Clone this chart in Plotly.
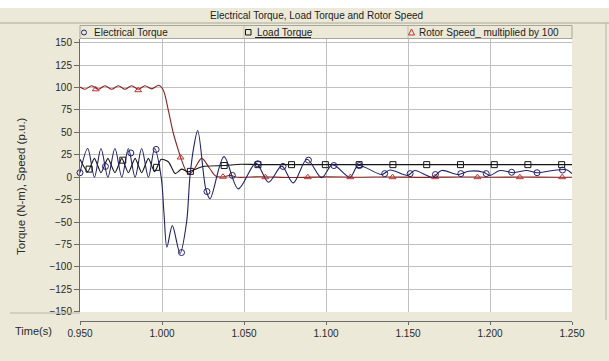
import plotly.graph_objects as go

# ---------------- data ----------------
elec_t = [0.9500, 0.9547, 0.9588, 0.9628, 0.9670, 0.9713, 0.9755, 0.9795, 0.9836, 0.9876,
          0.9917, 0.9955, 0.9995, 1.0012, 1.0030, 1.0063, 1.0110, 1.0150, 1.0170, 1.0195,
          1.0218, 1.0268, 1.0293, 1.0378, 1.0465, 1.0573, 1.0649, 1.0730, 1.0800, 1.0884,
          1.0973, 1.1040, 1.1146, 1.1197, 1.1340, 1.1390, 1.1500, 1.1540, 1.1650, 1.1705,
          1.1807, 1.1870, 1.1960, 1.2000, 1.2060, 1.2143, 1.2223, 1.2284, 1.2386, 1.2467, 1.2500]
elec_v = [5, 32, 0, 32, 0, 32, 0, 32, 0, 32,
          0, 32, 0, -40, -78, -54, -85, -50, 0, 35,
          52, -14, -24, 23, -13, 15.7, -5.6, 12.3, -6.3, 20,
          -0.5, 14, 0, 13, 3, 8, 2, 7.5, 0, 7.5,
          3, 6.7, 5.6, 2, 7.5, 5, 7.5, 5, 7.5, 8.3, 4]

load_t = [0.9500, 0.9547, 0.9588, 0.9628, 0.9670, 0.9713, 0.9755, 0.9795, 0.9836, 0.9876,
          0.9917, 0.9955, 0.9995, 1.0040, 1.0080, 1.0120, 1.0160, 1.0250, 1.0379, 1.0480,
          1.0600, 1.2500]
load_v = [20, 6, 21, 5, 21, 5, 21, 5, 21, 5,
          21, 6, 20, 17, 4, 9, 6, 12, 13, 14.5,
          14, 14]

speed_t = [0.9500, 0.9530, 0.9571, 0.9612, 0.9652, 0.9693, 0.9734, 0.9774, 0.9815, 0.9856,
           0.9896, 0.9937, 0.9980, 1.0008, 1.0038, 1.0069, 1.0100, 1.0120, 1.0150, 1.0170,
           1.0200, 1.0242, 1.0290, 1.0330, 1.0380, 1.0415, 1.0460, 1.0600, 1.0800, 1.1000,
           1.1200, 1.1400, 1.1600, 1.1800, 1.2000, 1.2200, 1.2400, 1.2500]
speed_v = [100.5, 98, 102, 98, 102, 98, 102, 98, 102, 98,
           102, 98.5, 102.5, 97, 75, 49, 30, 18.7, 6, 4,
           10, 21, 10, 1, 0.5, 2, 0, 0.5, -0.3, 0.4,
           0, 0.3, -0.2, 0.3, 0, 0.2, 0, 0]

elec_mark_t = [0.9500, 0.9655, 0.9810, 0.9964, 1.0119, 1.0274, 1.0429, 1.0584, 1.0738, 1.0893,
               1.1048, 1.1203, 1.1358, 1.1513, 1.1667, 1.1822, 1.1977, 1.2132, 1.2287, 1.2442]
elec_mark_v = [5, 12, 27, 31, -84, -16, 2, 15, 12, 19,
               13, 13, 4, 4, 3, 4, 4, 5.5, 5, 8]

load_mark_t = [0.9555, 0.9761, 0.9967, 1.0173, 1.0379, 1.0585, 1.0790, 1.0996, 1.1202, 1.1408,
               1.1614, 1.1820, 1.2026, 1.2231, 1.2437]
load_mark_v = [9, 19, 11, 6.5, 13, 14, 14, 14, 14, 14, 14, 14, 14, 14, 14]

speed_mark_t = [0.9596, 0.9855, 1.0113, 1.0372, 1.0630, 1.0889, 1.1148, 1.1406, 1.1665, 1.1923,
                1.2182, 1.2440]
speed_mark_v = [98, 97, 22, 0.5, 0, 0, 0, 0, 0, 0, 0, 0]

x_ticks = [0.95, 1.00, 1.05, 1.10, 1.15, 1.20, 1.25]
x_tick_text = ["0.950", "1.000", "1.050", "1.100", "1.150", "1.200", "1.250"]

title_text = "Electrical Torque, Load Torque and Rotor Speed"
legend_names = ["Electrical Torque", "Load Torque", "Rotor Speed_ multiplied by 100"]
y_title = "Torque (N-m), Speed (p.u.)"
x_title = "Time(s)"

# ---------------- styling ----------------
NAVY = "#22226a"
BLACK = "#151515"
DRED = "#8b2424"
TRI = "#c03030"
BEIGE = "#ece9d8"
GRID = "#c0c0c0"
FONT = "Liberation Sans, Arial, sans-serif"

W, H = 609, 361
L, R, T, B = 80, 572, 39, 321   # paper area in pixels
def px(x): return (x - L) / (R - L)
def py(y): return (B - y) / (B - T)

fig = go.Figure()
fig.add_trace(go.Scatter(x=speed_t, y=speed_v, mode="lines",
                         line=dict(color=DRED, width=1.1, shape="spline", smoothing=0.9)))
fig.add_trace(go.Scatter(x=load_t, y=load_v, mode="lines",
                         line=dict(color=BLACK, width=1.1, shape="spline", smoothing=0.6)))
fig.add_trace(go.Scatter(x=elec_t, y=elec_v, mode="lines",
                         line=dict(color=NAVY, width=1.1, shape="spline", smoothing=0.9)))
fig.add_trace(go.Scatter(x=speed_mark_t, y=speed_mark_v, mode="markers", cliponaxis=False,
                         marker=dict(symbol="triangle-up-open", size=6, color=TRI, line=dict(width=1))))
fig.add_trace(go.Scatter(x=load_mark_t, y=load_mark_v, mode="markers", cliponaxis=False,
                         marker=dict(symbol="square-open", size=6, color=BLACK, line=dict(width=1))))
fig.add_trace(go.Scatter(x=elec_mark_t, y=elec_mark_v, mode="markers", cliponaxis=False,
                         marker=dict(symbol="circle-open", size=6, color=NAVY, line=dict(width=1))))

fig.update_layout(
    width=W, height=H,
    margin=dict(l=L, r=W - R, t=T, b=H - B, pad=0),
    paper_bgcolor=BEIGE, plot_bgcolor="white",
    showlegend=False,
    font=dict(family=FONT, size=10, color="#2a2a2a"),
    xaxis=dict(range=[0.95, 1.25], tickvals=x_ticks, ticktext=x_tick_text,
               anchor="free", position=0, showline=True, linecolor="#6a6a6a", linewidth=1,
               ticks="outside", ticklen=3, tickcolor="#6a6a6a",
               showgrid=True, gridcolor=GRID, gridwidth=1, zeroline=False,
               tickfont=dict(size=10, color="#2a2a2a")),
    yaxis=dict(domain=[(B - 312) / (B - T), 1], range=[-150.3, 154.1],
               tick0=0, dtick=25, showline=True, linecolor="#6a6a6a", linewidth=1,
               ticks="outside", ticklen=5, tickcolor="#6a6a6a",
               showgrid=True, gridcolor=GRID, gridwidth=1, zeroline=False,
               tickfont=dict(size=10, color="#2a2a2a")),
)

shapes = []
# top white strip and title band line
shapes.append(dict(type="rect", xref="paper", yref="paper", x0=px(0), x1=px(W), y0=py(0), y1=py(8),
                   fillcolor="white", line=dict(width=0), layer="below"))
shapes.append(dict(type="line", xref="paper", yref="paper", x0=px(0), x1=px(W), y0=py(23), y1=py(23),
                   line=dict(color="#a9a89c", width=1)))
# legend bar
shapes.append(dict(type="rect", xref="paper", yref="paper", x0=px(80), x1=px(572), y0=py(25.5), y1=py(38.5),
                   fillcolor=BEIGE, line=dict(color="#a6a59a", width=1)))
for sx in (244, 408):
    shapes.append(dict(type="line", xref="paper", yref="paper", x0=px(sx), x1=px(sx), y0=py(25.5), y1=py(38.5),
                       line=dict(color="#c0bfb4", width=1)))
# legend symbols
shapes.append(dict(type="circle", xref="paper", yref="paper", x0=px(81.5), x1=px(86.5), y0=py(30), y1=py(35),
                   line=dict(color=NAVY, width=1)))
shapes.append(dict(type="rect", xref="paper", yref="paper", x0=px(245.5), x1=px(251), y0=py(29.5), y1=py(35),
                   line=dict(color=BLACK, width=1)))
tx0, ty0 = px(408.5), py(35)
tx1, ty1 = px(414.5), py(35)
tx2, ty2 = px(411.5), py(29)
shapes.append(dict(type="path", xref="paper", yref="paper",
                   path=f"M {tx0} {ty0} L {tx1} {ty1} L {tx2} {ty2} Z", line=dict(color=TRI, width=1)))
# underline of "Load Torque"
shapes.append(dict(type="line", xref="paper", yref="paper", x0=px(255), x1=px(311), y0=py(37.5), y1=py(37.5),
                   line=dict(color="#222222", width=1)))
# right and left frame lines
shapes.append(dict(type="line", xref="paper", yref="paper", x0=px(606), x1=px(606), y0=py(23), y1=py(320),
                   line=dict(color="#b8b7ab", width=1)))
shapes.append(dict(type="line", xref="paper", yref="paper", x0=px(10), x1=px(80), y0=py(313), y1=py(313),
                   line=dict(color="#b8b7ab", width=1)))
fig.update_layout(shapes=shapes)

ann = []
ann.append(dict(text=title_text, xref="paper", yref="paper", x=px(316), y=py(15.5),
                xanchor="center", yanchor="middle", showarrow=False,
                font=dict(size=10, color="#222222", family=FONT)))
for name, sx in zip(legend_names, (91.5, 255, 417)):
    ann.append(dict(text=name, xref="paper", yref="paper", x=px(sx), y=py(32.5),
                    xanchor="left", yanchor="middle", showarrow=False,
                    font=dict(size=10, color="#222222", family=FONT)))
ann.append(dict(text=y_title, xref="paper", yref="paper", x=px(21), y=py(186),
                xanchor="center", yanchor="middle", textangle=-90, showarrow=False,
                font=dict(size=11.5, color="#2a2a2a", family=FONT)))
ann.append(dict(text=x_title, xref="paper", yref="paper", x=px(13), y=py(331),
                xanchor="left", yanchor="middle", showarrow=False,
                font=dict(size=11, color="#2a2a2a", family=FONT)))
fig.update_layout(annotations=ann)

fig.write_html("out.html")
